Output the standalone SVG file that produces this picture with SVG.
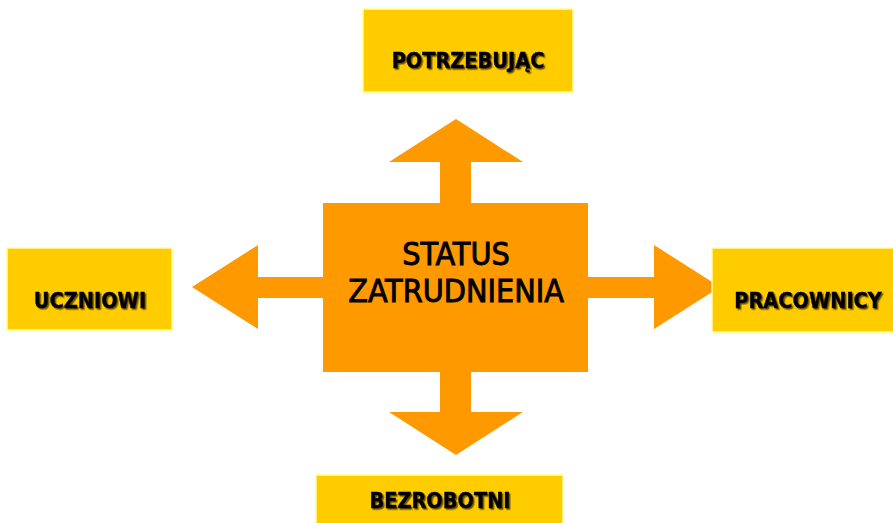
<svg xmlns="http://www.w3.org/2000/svg" width="893" height="523" viewBox="0 0 893 523">
<defs>
<style>
.box{fill:#FFCC00;stroke:#FFFF99;stroke-width:1.5}
.lbl{font-family:"DejaVu Sans Condensed","DejaVu Sans",sans-serif;font-weight:bold;font-size:21.5px;fill:#000;stroke:#000;stroke-width:0.4;text-anchor:middle;filter:url(#sh)}
.arr{fill:#FF9900}
.ctr{font-family:"DejaVu Sans Condensed","DejaVu Sans",sans-serif;font-size:32px;fill:#000;stroke:#000;stroke-width:0.9;text-anchor:middle}
</style>
<filter id="sh" x="-10%" y="-30%" width="120%" height="160%">
<feDropShadow dx="1.5" dy="1.5" stdDeviation="0.5" flood-color="#332200" flood-opacity="0.75"/>
</filter>
</defs>
<rect width="893" height="523" fill="#fff"/>
<g id="connectors">
<polygon class="arr" points="456,119 523,162 471,162 471,204 440,204 440,162 389,162"/>
<polygon class="arr" points="456,455 523,412 471,412 471,371 440,371 440,412 389,412"/>
<polygon class="arr" points="192,287 258,245 258,277 324,277 324,298 258,298 258,329"/>
<polygon class="arr" points="720,287 654,245 654,277 587,277 587,298 654,298 654,329"/>
</g>
<g id="center">
<rect x="323" y="203" width="265" height="169" fill="#FF9900"/>
<text class="ctr" x="456" y="265">STATUS</text>
<text class="ctr" x="456" y="302">ZATRUDNIENIA</text>
</g>
<g id="potrzebujac">
<rect class="box" x="363" y="9" width="210" height="83"/>
<text class="lbl" x="468" y="68">POTRZEBUJĄC</text>
</g>
<g id="uczniowie">
<rect class="box" x="7" y="248" width="165" height="82"/>
<text class="lbl" x="90" y="308">UCZNIOWI</text>
</g>
<g id="pracownicy">
<rect class="box" x="712" y="248" width="195" height="84"/>
<text class="lbl" x="808" y="308">PRACOWNICY</text>
</g>
<g id="bezrobotni">
<rect class="box" x="316" y="475" width="247" height="55"/>
<text class="lbl" x="440" y="508">BEZROBOTNI</text>
</g>
</svg>
